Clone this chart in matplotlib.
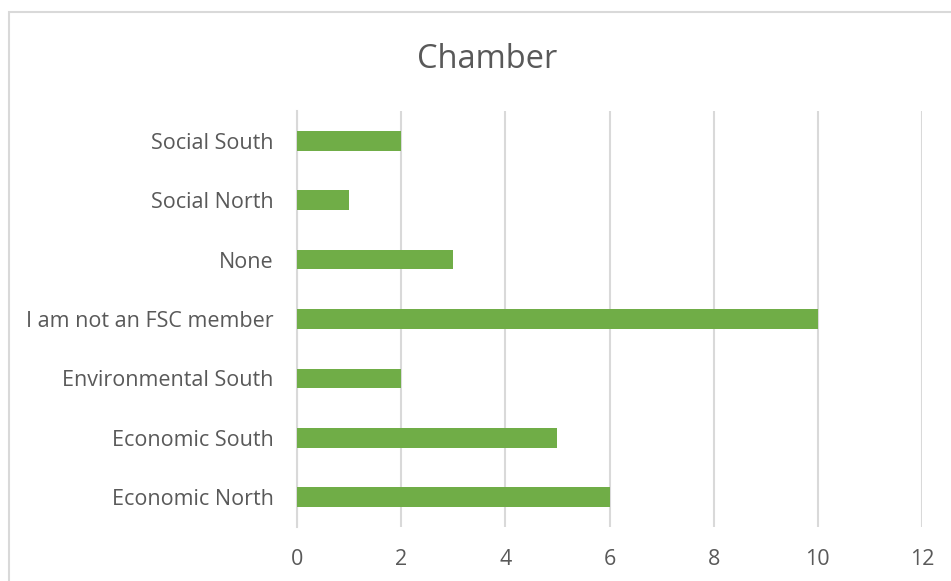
import matplotlib
matplotlib.use("Agg")
import matplotlib.pyplot as plt
from matplotlib.patches import Rectangle

categories = ["Economic North", "Economic South", "Environmental South",
              "I am not an FSC member", "None", "Social North", "Social South"]
values = [6, 5, 2, 10, 3, 1, 2]
x_ticks = [0, 2, 4, 6, 8, 10, 12]

plt.rcParams['font.family'] = ['Open Sans', 'DejaVu Sans']
text_color = "#595959"
grid_color = "#D9D9D9"

fig = plt.figure(figsize=(9.51, 5.81), dpi=100)
ax = fig.add_axes([297 / 951, 1 - 527 / 581, 625 / 951, 416 / 581])

# chart frame, cut off at the right and bottom like the screenshot
fig.patches.append(Rectangle((9 / 951, -0.05), 1.0, 1 - 12 / 581 + 0.05,
                             transform=fig.transFigure, fill=False,
                             edgecolor=grid_color, linewidth=1.5))

ax.barh(range(len(categories)), values, height=0.33, color="#70AD47", zorder=3)

ax.set_xlim(0, 12)
ax.set_ylim(-0.5, len(categories) - 0.5)
ax.set_xticks(x_ticks)
ax.set_yticks(range(len(categories)))
ax.set_yticklabels(categories)
ax.grid(axis='x', color=grid_color, linewidth=1.5, zorder=0)

for side in ['top', 'right', 'bottom']:
    ax.spines[side].set_visible(False)
ax.spines['left'].set_color(grid_color)
ax.spines['left'].set_linewidth(1.5)

ax.tick_params(axis='both', length=0, labelsize=15.5, labelcolor=text_color)
ax.tick_params(axis='x', pad=16)
ax.tick_params(axis='y', pad=17)

fig.text(487 / 951, 1 - 59 / 581, "Chamber", ha='center', va='center',
         fontsize=23.5, color=text_color)

fig.savefig("out.png", dpi=100)
